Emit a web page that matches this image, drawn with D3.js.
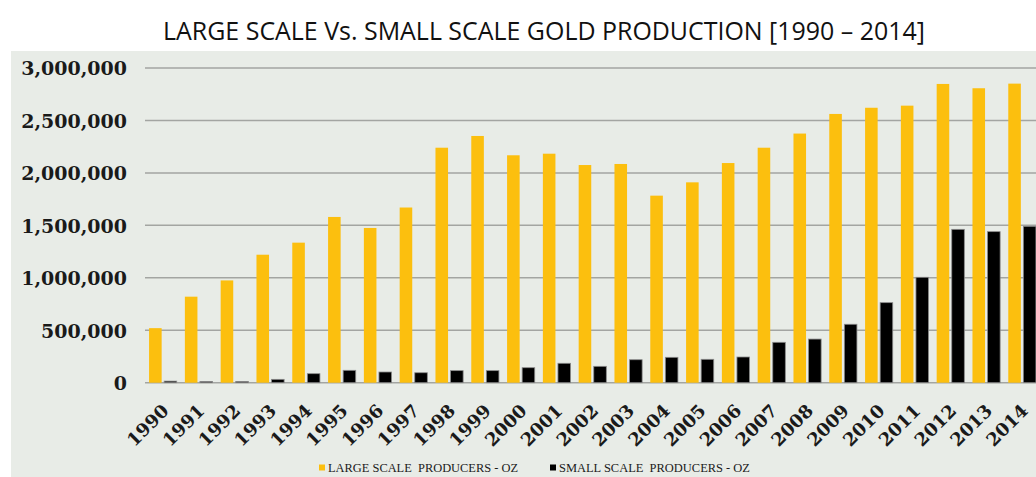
<!DOCTYPE html>
<html>
<head>
<meta charset="utf-8">
<script src="https://cdn.jsdelivr.net/npm/d3@7"></script>
<style>
  html, body { margin: 0; padding: 0; background: #ffffff; overflow: hidden; }
  svg { display: block; }
</style>
</head>
<body>
<svg id="chart" width="1036" height="477"></svg>
<script>
const years = ["1990","1991","1992","1993","1994","1995","1996","1997","1998","1999","2000","2001","2002","2003","2004","2005","2006","2007","2008","2009","2010","2011","2012","2013","2014"];
const largeScale = [520000, 820000, 975000, 1220000, 1335000, 1580000, 1475000, 1670000, 2240000, 2352000, 2168000, 2183000, 2075000, 2085000, 1783000, 1910000, 2094000, 2240000, 2375000, 2562000, 2621000, 2641000, 2848000, 2807000, 2851000];
const smallScale = [15000, 12000, 12000, 32000, 86000, 118000, 102000, 95000, 115000, 115000, 143000, 185000, 156000, 219000, 242000, 223000, 245000, 385000, 416000, 557000, 763000, 1005000, 1462000, 1440000, 1491000];
const seriesNames = ["LARGE SCALE  PRODUCERS - OZ", "SMALL SCALE  PRODUCERS - OZ"];
const seriesColors = ["#FCBF0E", "#000000"];
const yTicks = [0, 500000, 1000000, 1500000, 2000000, 2500000, 3000000];
const titleText = "LARGE SCALE Vs. SMALL SCALE GOLD PRODUCTION [1990 \u2013 2014]";

const svg = d3.select("#chart");

// plot-area background
svg.append("rect").attr("x", 11).attr("y", 51).attr("width", 1025).attr("height", 426).attr("fill", "#E8ECE7");

// title, sized to span the same width as the reference
const title = svg.append("text")
  .attr("x", 544).attr("y", 40)
  .attr("text-anchor", "middle")
  .style("font-family", "'Liberation Sans Narrow', 'Open Sans', sans-serif")
  .style("font-size", "31px")
  .attr("fill", "#111")
  .text(titleText);
const tw = title.node().getComputedTextLength();
if (tw > 0) title.style("font-size", (31 * 762 / tw).toFixed(2) + "px");

const plotLeft = 145;
const step = 35.8;
const x = d3.scaleBand().domain(years).range([plotLeft, plotLeft + step * years.length]).padding(0);
const xSub = d3.scaleBand().domain([0, 1]).range([0, x.bandwidth()]).paddingInner(1/6).paddingOuter(0.27);
const y = d3.scaleLinear().domain([0, 3000000]).range([382.7, 68]);

// gridlines
svg.append("g").selectAll("line").data(yTicks).join("line")
  .attr("x1", plotLeft).attr("x2", 1036)
  .attr("y1", d => y(d)).attr("y2", d => y(d))
  .attr("stroke", "#A3A5A2").attr("stroke-width", 1.5);

// y axis labels
const yAxis = d3.axisLeft(y).tickValues(yTicks).tickSize(0).tickPadding(0).tickFormat(d3.format(","));
const gy = svg.append("g").attr("transform", "translate(127,0)").call(yAxis);
gy.select(".domain").remove();
gy.selectAll("text")
  .style("font-family", "'DejaVu Serif', serif")
  .style("font-weight", "bold")
  .style("font-size", "19px")
  .attr("fill", "#1a1a1a")
  .attr("dy", "0.36em");

// bars
const series = [largeScale, smallScale];
series.forEach((vals, si) => {
  svg.append("g").selectAll("rect").data(years).join("rect")
    .attr("x", (d) => x(d) + xSub(si))
    .attr("width", xSub.bandwidth())
    .attr("y", (d, i) => y(vals[i]))
    .attr("height", (d, i) => y(0) - y(vals[i]))
    .attr("fill", seriesColors[si])
    .attr("stroke", si === 1 ? "#8a8a8a" : "none")
    .attr("stroke-width", si === 1 ? 0.8 : 0);
});

// x axis labels (rotated -45deg, end-anchored just right of band centre)
svg.append("g").selectAll("text").data(years).join("text")
  .attr("transform", d => `translate(${x(d) + x.bandwidth() / 2 + 7},412) rotate(-45)`)
  .attr("text-anchor", "end")
  .style("font-family", "'DejaVu Serif', serif")
  .style("font-weight", "bold")
  .style("font-size", "18px")
  .attr("fill", "#1a1a1a")
  .text(d => d);

// legend
const legendItems = [
  {name: seriesNames[0], color: seriesColors[0], sx: 319, tx: 328, tw: 190},
  {name: seriesNames[1], color: seriesColors[1], sx: 550, tx: 559, tw: 191}
];
const lg = svg.append("g");
legendItems.forEach(it => {
  lg.append("rect").attr("x", it.sx).attr("y", 464.5).attr("width", 6).attr("height", 6).attr("fill", it.color);
  lg.append("text").attr("x", it.tx).attr("y", 471.5)
    .attr("textLength", it.tw).attr("lengthAdjust", "spacingAndGlyphs")
    .style("font-family", "'Liberation Serif', serif")
    .style("font-size", "12px")
    .attr("fill", "#1a1a1a")
    .attr("xml:space", "preserve")
    .text(it.name);
});
</script>
</body>
</html>
